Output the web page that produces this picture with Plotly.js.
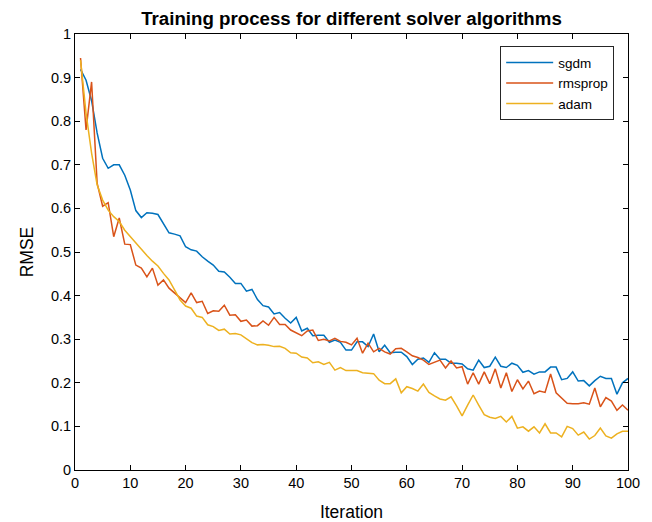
<!DOCTYPE html>
<html>
<head>
<meta charset="utf-8">
<script src="https://cdn.plot.ly/plotly-3.0.1.min.js"></script>
<style>
html,body{margin:0;padding:0;background:#fff;}
#chart{width:652px;height:522px;}
</style>
</head>
<body>
<div id="chart"></div>
<script>
var iterations = [];
for (var k = 1; k <= 100; k++) iterations.push(k);

var sgdm = [0.919,0.894,0.847,0.773,0.715,0.692,0.700,0.700,0.676,0.642,
0.595,0.579,0.590,0.589,0.586,0.566,0.544,0.541,0.537,0.512,
0.505,0.502,0.489,0.479,0.470,0.456,0.454,0.442,0.428,0.428,
0.410,0.414,0.391,0.377,0.374,0.358,0.361,0.348,0.337,0.350,
0.319,0.325,0.308,0.309,0.309,0.293,0.298,0.293,0.275,0.275,
0.294,0.294,0.283,0.312,0.271,0.286,0.269,0.270,0.270,0.260,
0.242,0.254,0.257,0.247,0.269,0.254,0.254,0.245,0.245,0.243,
0.232,0.229,0.252,0.235,0.238,0.259,0.238,0.235,0.245,0.240,
0.224,0.228,0.220,0.225,0.225,0.236,0.236,0.207,0.210,0.225,
0.204,0.205,0.193,0.205,0.215,0.210,0.210,0.174,0.200,0.210];

var rmsprop = [0.945,0.780,0.890,0.658,0.605,0.613,0.535,0.578,0.518,0.517,
0.470,0.463,0.443,0.463,0.424,0.436,0.417,0.406,0.394,0.384,
0.406,0.384,0.387,0.359,0.365,0.364,0.378,0.355,0.356,0.341,
0.344,0.330,0.331,0.342,0.332,0.350,0.334,0.334,0.321,0.314,
0.308,0.319,0.321,0.297,0.300,0.296,0.302,0.295,0.293,0.287,
0.302,0.268,0.291,0.271,0.279,0.271,0.266,0.278,0.279,0.271,
0.262,0.258,0.252,0.242,0.247,0.252,0.234,0.250,0.234,0.237,
0.197,0.223,0.197,0.225,0.198,0.232,0.188,0.223,0.180,0.207,
0.186,0.204,0.175,0.181,0.178,0.220,0.177,0.165,0.153,0.152,
0.152,0.154,0.151,0.188,0.145,0.166,0.158,0.137,0.149,0.137];

var adam = [0.940,0.818,0.727,0.654,0.619,0.596,0.581,0.570,0.550,0.535,
0.520,0.506,0.492,0.479,0.468,0.451,0.436,0.413,0.390,0.376,
0.371,0.353,0.350,0.333,0.329,0.320,0.323,0.312,0.313,0.310,
0.300,0.292,0.287,0.288,0.286,0.283,0.284,0.279,0.269,0.268,
0.259,0.257,0.246,0.248,0.242,0.247,0.229,0.235,0.228,0.228,
0.228,0.223,0.222,0.221,0.206,0.198,0.198,0.209,0.177,0.191,
0.187,0.181,0.197,0.178,0.170,0.163,0.160,0.168,0.147,0.124,
0.149,0.172,0.149,0.127,0.121,0.118,0.123,0.110,0.123,0.096,
0.099,0.089,0.099,0.085,0.106,0.085,0.085,0.076,0.100,0.095,
0.080,0.087,0.071,0.079,0.096,0.078,0.073,0.083,0.089,0.089];

var seriesNames = ['sgdm','rmsprop','adam'];
var seriesColors = ['#0072BD','#D95319','#EDB120'];
var seriesData = [sgdm, rmsprop, adam];

var xTicks = [0,10,20,30,40,50,60,70,80,90,100];
var yTicks = [0,0.1,0.2,0.3,0.4,0.5,0.6,0.7,0.8,0.9,1];
var yTickText = ['0','0.1','0.2','0.3','0.4','0.5','0.6','0.7','0.8','0.9','1'];

var traces = seriesData.map(function(d, i){
  return {x: iterations, y: d, type:'scatter', mode:'lines', name: seriesNames[i],
          line:{color: seriesColors[i], width:1.5}};
});

var fontFam = 'Liberation Sans, Arial, sans-serif';
var axisCommon = {
  showgrid:false, zeroline:false, showline:true, linecolor:'#000', linewidth:1,
  mirror:'allticks', ticks:'inside', ticklen:5, tickwidth:1, tickcolor:'#000',
  tickfont:{family:fontFam, size:14.5, color:'#000'}
};

var layout = {
  width:652, height:522,
  margin:{l:75, r:24, t:34, b:52},
  paper_bgcolor:'#fff', plot_bgcolor:'#fff',
  font:{family:fontFam, color:'#000'},
  title:{text:'<b>Training process for different solver algorithms</b>',
         font:{family:fontFam, size:18.7, color:'#000'},
         x:0.5, xref:'paper', y:0.965, yref:'container', yanchor:'middle'},
  xaxis: Object.assign({}, axisCommon, {
    range:[0,100], tickvals:xTicks, ticktext:xTicks.map(String),
    title:{text:'Iteration', font:{family:fontFam, size:17.5, color:'#000'}, standoff:15}
  }),
  yaxis: Object.assign({}, axisCommon, {
    range:[0,1], tickvals:yTicks, ticktext:yTickText,
    title:{text:'RMSE', font:{family:fontFam, size:17.5, color:'#000'}, standoff:12}
  }),
  legend:{x:0.975, xanchor:'right', y:0.972, yanchor:'top',
          bgcolor:'#fff', bordercolor:'#262626', borderwidth:1, itemwidth:47,
          font:{family:fontFam, size:13.5, color:'#000'}, tracegroupgap:0},
  showlegend:true
};

Plotly.newPlot('chart', traces, layout, {staticPlot:true, displayModeBar:false});
</script>
</body>
</html>
